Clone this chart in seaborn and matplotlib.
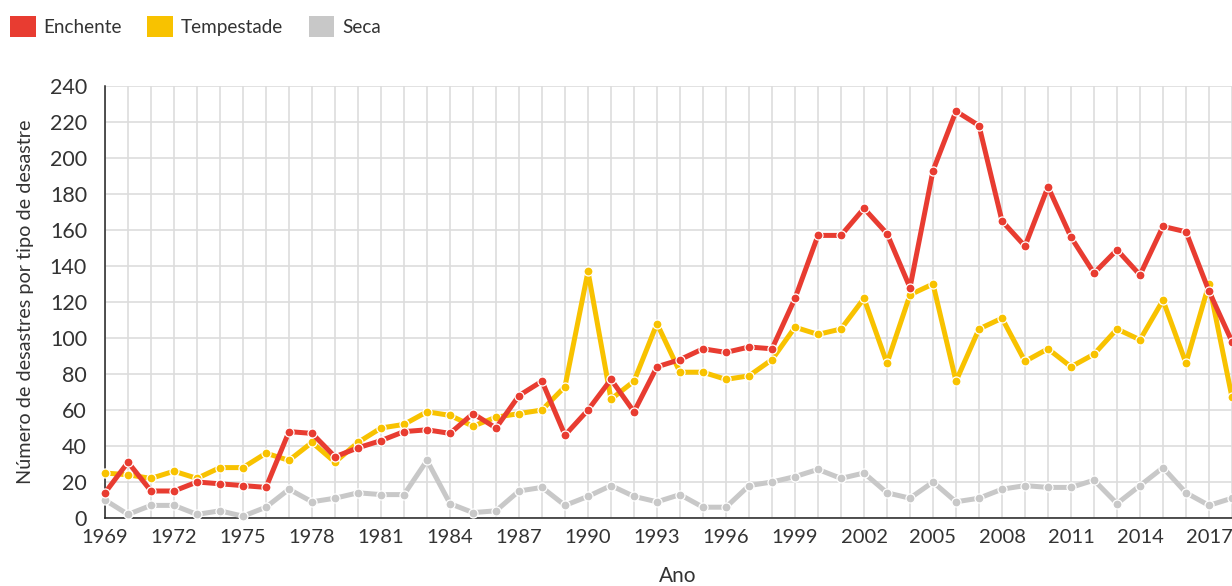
import numpy as np
import pandas as pd
import matplotlib
matplotlib.use("Agg")
import matplotlib.pyplot as plt
import seaborn as sns
from matplotlib.patches import Patch

# Data
anos = list(range(1969, 2019))

enchente = [14, 31, 15, 15, 20, 19, 18, 17, 48, 47,
            34, 39, 43, 48, 49, 47, 58, 50, 68, 76,
            46, 60, 77, 59, 84, 88, 94, 92, 95, 94,
            122, 157, 157, 172, 158, 128, 193, 226, 218, 165,
            151, 184, 156, 136, 149, 135, 162, 159, 126, 98]

tempestade = [25, 24, 22, 26, 22, 28, 28, 36, 32, 42,
              31, 42, 50, 52, 59, 57, 51, 56, 58, 60,
              73, 137, 66, 76, 108, 81, 81, 77, 79, 88,
              106, 102, 105, 122, 86, 124, 130, 76, 105, 111,
              87, 94, 84, 91, 105, 99, 121, 86, 130, 67]

seca = [10, 2, 7, 7, 2, 4, 1, 6, 16, 9,
        11, 14, 13, 13, 32, 8, 3, 4, 15, 17,
        7, 12, 18, 12, 9, 13, 6, 6, 18, 20,
        23, 27, 22, 25, 14, 11, 20, 9, 11, 16,
        18, 17, 17, 21, 8, 18, 28, 14, 7, 11]

tipos = ["Enchente", "Tempestade", "Seca"]
cores = {"Enchente": "#E83C31", "Tempestade": "#F8C200", "Seca": "#C8C8C8"}

df = pd.DataFrame({"Ano": anos, "Enchente": enchente,
                   "Tempestade": tempestade, "Seca": seca})
longo = df.melt(id_vars="Ano", var_name="Tipo", value_name="Valor")

sns.set_style("white")
plt.rcParams["font.family"] = ["Lato", "DejaVu Sans"]
texto = "#333333"

fig = plt.figure(figsize=(12.32, 5.86), dpi=100)
ax = fig.add_axes([105 / 1232, 1 - 518 / 586, 1 - 105 / 1232, (518 - 86) / 586])

# draw grey first, red last
for tipo in ["Seca", "Tempestade", "Enchente"]:
    sub = longo[longo["Tipo"] == tipo]
    sns.lineplot(data=sub, x="Ano", y="Valor", ax=ax, color=cores[tipo],
                 linewidth=3.6, marker="o", markersize=6.5,
                 markeredgecolor="white", markeredgewidth=0.9,
                 clip_on=False, legend=False, zorder=3)

ax.set_xlim(1969, 2018)
ax.set_ylim(0, 240)
ax.set_xticks(anos)
ax.set_xticklabels([str(a) if (a - 1969) % 3 == 0 else "" for a in anos])
ax.set_yticks(range(0, 241, 20))
ax.grid(True, color="#DDDDDD", linewidth=1.2, zorder=0)
ax.set_axisbelow(True)
ax.tick_params(axis="x", length=0, labelsize=14.5, colors=texto, pad=8)
ax.tick_params(axis="y", length=0, labelsize=15.5, colors=texto, pad=13)

for s in ["top", "right"]:
    ax.spines[s].set_visible(False)
for s in ["left", "bottom"]:
    ax.spines[s].set_color("#222222")
    ax.spines[s].set_linewidth(1.1)

ax.set_xlabel("Ano", fontsize=15, color=texto, labelpad=14)
ax.xaxis.label.set_x(0.508)
ax.set_ylabel("Número de desastres por tipo de desastre", fontsize=14.3,
              color=texto, labelpad=11)

handles = [Patch(facecolor=cores[t], edgecolor="none", label=t) for t in tipos]
fig.legend(handles=handles, loc="upper left",
           bbox_to_anchor=(10 / 1232, 1 - 16 / 586),
           ncol=3, frameon=False, fontsize=13.6, handlelength=1.35,
           handleheight=1.35, handletextpad=0.42, columnspacing=1.35,
           borderpad=0, borderaxespad=0, labelcolor=texto)

fig.savefig("out.png", dpi=100)
